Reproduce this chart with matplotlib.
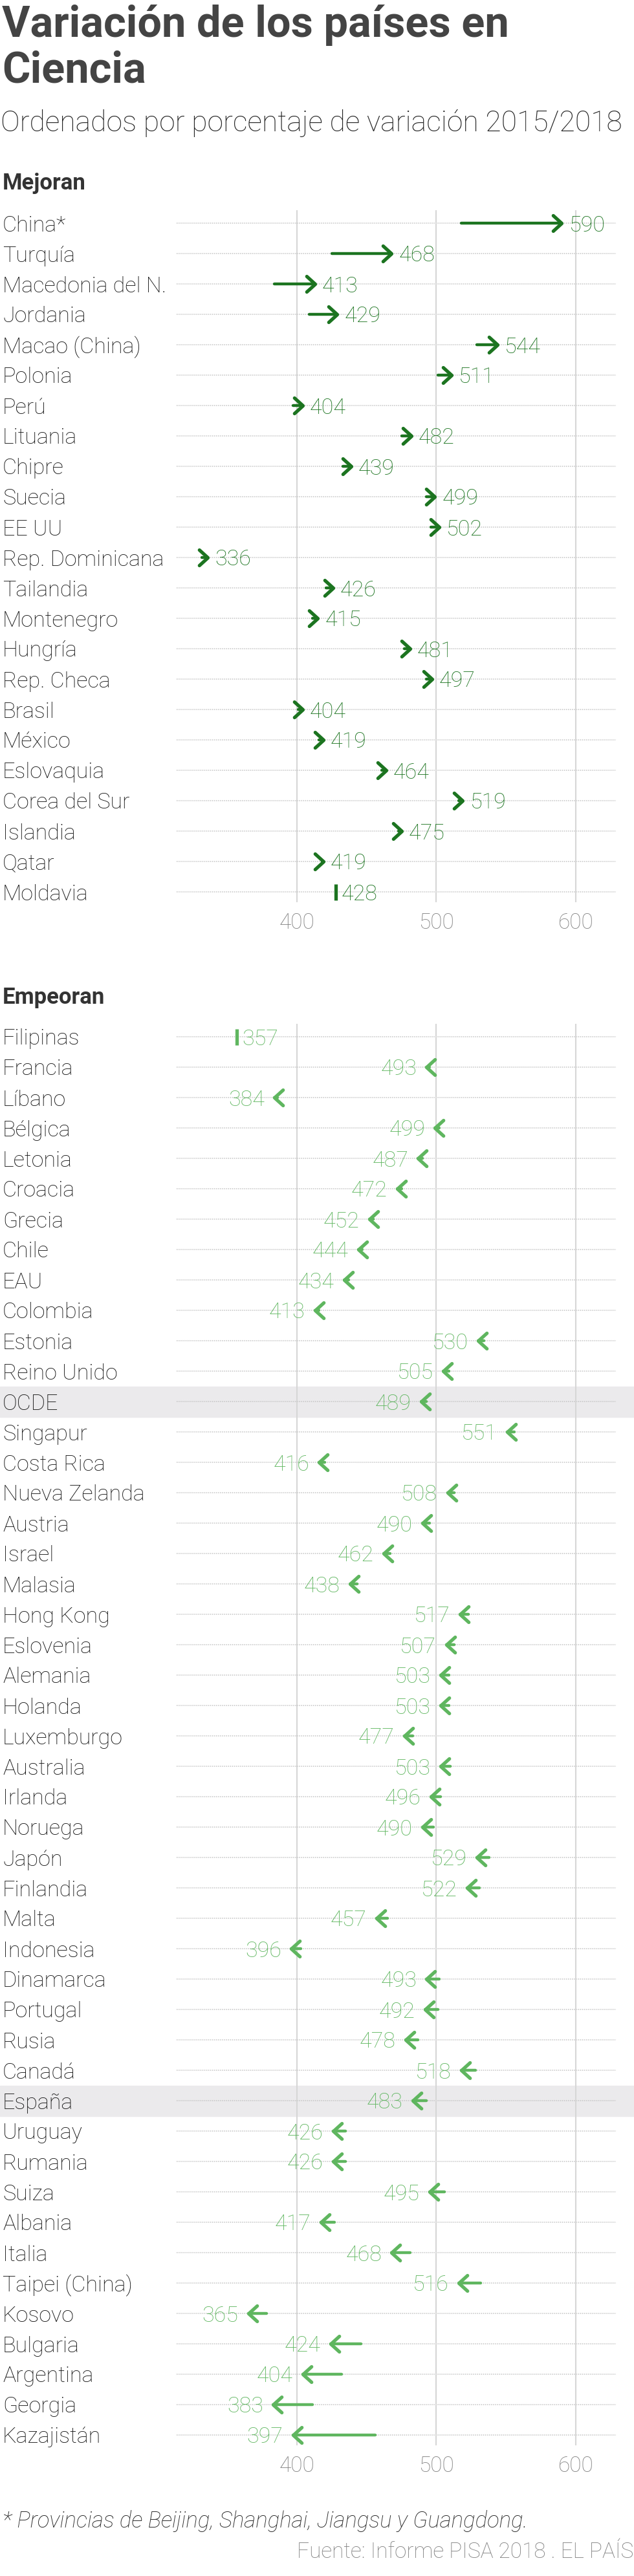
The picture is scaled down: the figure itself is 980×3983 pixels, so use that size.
import numpy as np
import matplotlib
matplotlib.use("Agg")
import matplotlib.pyplot as plt
from matplotlib.path import Path
from matplotlib.markers import MarkerStyle
from matplotlib.patches import Rectangle
from matplotlib.transforms import blended_transform_factory as blend

# --- datos (puntuación PISA en Ciencia) ---
mejoran_paises = ['China*', 'Turquía', 'Macedonia del N.', 'Jordania', 'Macao (China)',
                  'Polonia', 'Perú', 'Lituania', 'Chipre', 'Suecia', 'EE UU',
                  'Rep. Dominicana', 'Tailandia', 'Montenegro', 'Hungría', 'Rep. Checa',
                  'Brasil', 'México', 'Eslovaquia', 'Corea del Sur', 'Islandia', 'Qatar',
                  'Moldavia']
mejoran_2015 = [518, 425, 384, 409, 529, 501, 397, 475, 433, 493, 496, 332, 421, 411,
                477, 493, 401, 416, 461, 516, 473, 418, 428]
mejoran_2018 = [590, 468, 413, 429, 544, 511, 404, 482, 439, 499, 502, 336, 426, 415,
                481, 497, 404, 419, 464, 519, 475, 419, 428]

empeoran_paises = ['Filipinas', 'Francia', 'Líbano', 'Bélgica', 'Letonia', 'Croacia',
                   'Grecia', 'Chile', 'EAU', 'Colombia', 'Estonia', 'Reino Unido', 'OCDE',
                   'Singapur', 'Costa Rica', 'Nueva Zelanda', 'Austria', 'Israel', 'Malasia',
                   'Hong Kong', 'Eslovenia', 'Alemania', 'Holanda', 'Luxemburgo', 'Australia',
                   'Irlanda', 'Noruega', 'Japón', 'Finlandia', 'Malta', 'Indonesia',
                   'Dinamarca', 'Portugal', 'Rusia', 'Canadá', 'España', 'Uruguay', 'Rumania',
                   'Suiza', 'Albania', 'Italia', 'Taipei (China)', 'Kosovo', 'Bulgaria',
                   'Argentina', 'Georgia', 'Kazajistán']
empeoran_2015 = [np.nan, 495, 386, 502, 490, 475, 455, 447, 437, 416, 534, 509, 493,
                 556, 420, 513, 495, 467, 443, 523, 513, 509, 509, 483, 510, 503, 498,
                 538, 531, 465, 403, 502, 501, 487, 528, 493, 435, 435, 506, 427, 481,
                 532, 378, 446, 432, 411, 456]
empeoran_2018 = [357, 493, 384, 499, 487, 472, 452, 444, 434, 413, 530, 505, 489,
                 551, 416, 508, 490, 462, 438, 517, 507, 503, 503, 477, 503, 496, 490,
                 529, 522, 457, 396, 493, 492, 478, 518, 483, 426, 426, 495, 417, 468,
                 516, 365, 424, 404, 383, 397]

destacados = ['OCDE', 'España']
ticks = [400, 500, 600]

VERDE_OSC = '#1c7420'
VERDE_CLA = '#5fb65f'

W, H, DPI = 980, 3983, 100
FILA = 47

plt.rcParams['font.family'] = ['Roboto', 'DejaVu Sans']

fig = plt.figure(figsize=(W / DPI, H / DPI), dpi=DPI)


def ftxt(x, y, s, **kw):
    # texto en píxeles desde arriba a la izquierda
    return fig.text(x / W, 1 - y / H, s, **kw)


def chevron(derecha=True):
    d = -1.1 if derecha else 1.1
    p = Path([(d, 1), (0, 0), (d, -1)], [Path.MOVETO, Path.LINETO, Path.LINETO])
    return MarkerStyle(p, fillstyle='none', joinstyle='round', capstyle='round')


def seccion(top, paises, v15, v18, color):
    n = len(paises)
    y0 = top + 20
    bottom = y0 + (n - 1) * FILA + 16
    ax = fig.add_axes([273 / W, 1 - bottom / H, (952 - 273) / W, (bottom - top) / H])
    ax.axis('off')
    lab_tr = blend(fig.transFigure, ax.transData)
    tick_tr = blend(ax.transData, fig.transFigure)

    for i, pais in enumerate(paises):
        if pais in destacados:
            ax.add_patch(Rectangle((0, i - 0.5), 1, 1, transform=lab_tr, color='#ebeaec',
                                   zorder=0, clip_on=False))
        ax.axhline(i, color='#c4c4c4', lw=1.1, ls=(0, (1, 1)), zorder=1)
        ax.text(4 / W, i, pais, transform=lab_tr, ha='left', va='center_baseline',
                fontsize=24.5, fontweight='light', color='#111111')

    for t in ticks:
        ax.axvline(t, color='#d6d6d6', lw=1.5, zorder=1.5)
        ax.text(t, 1 - (bottom + 29) / H, str(t), transform=tick_tr, ha='center',
                va='center_baseline', fontsize=24, fontweight='light', color='#808080')

    for i, (a, b) in enumerate(zip(v15, v18)):
        if np.isnan(a) or a == b:
            ax.plot(b, i, marker='|', ms=18, mew=3.8, color=color, zorder=3)
            ax.annotate(str(b), (b, i), xytext=(6, 0), textcoords='offset points',
                        ha='left', va='center_baseline', fontsize=24.5,
                        fontweight='light', color=color, zorder=4)
            continue
        sube = b > a
        ax.plot([a, b], [i, i], color=color, lw=3.2, solid_capstyle='round', zorder=3)
        ax.plot(b, i, marker=chevron(sube), ms=19, mew=3.8, color=color, zorder=3)
        if sube:
            ax.annotate(str(b), (b, i), xytext=(8, 0), textcoords='offset points',
                        ha='left', va='center_baseline', fontsize=24.5,
                        fontweight='light', color=color, zorder=4)
        else:
            ax.annotate(str(b), (b, i), xytext=(-11, 0), textcoords='offset points',
                        ha='right', va='center_baseline', fontsize=24.5,
                        fontweight='light', color=color, zorder=4)

    ax.set_xlim(313.7, 628.8)
    ax.set_ylim((n - 1) + 16 / FILA, -20 / FILA)
    return ax


# cabecera
ftxt(3, 57, 'Variación de los países en', fontsize=48, fontweight='bold', color='#444444')
ftxt(3, 127, 'Ciencia', fontsize=48, fontweight='bold', color='#444444')
ftxt(1, 203, 'Ordenados por porcentaje de variación 2015/2018', fontsize=32,
     fontweight='light', color='#222222')

ftxt(4, 293, 'Mejoran', fontsize=25, fontweight='bold', color='#333333')
seccion(325, mejoran_paises, np.array(mejoran_2015, float), mejoran_2018, VERDE_OSC)

ftxt(4, 1552, 'Empeoran', fontsize=25, fontweight='bold', color='#333333')
seccion(1583, empeoran_paises, np.array(empeoran_2015, float), empeoran_2018, VERDE_CLA)

ftxt(4, 3908, '* Provincias de Beijing, Shanghai, Jiangsu y Guangdong.', fontsize=25,
     style='italic', fontweight='light', color='#222222')
ftxt(979, 3955, 'Fuente: Informe PISA 2018 . EL PAÍS', fontsize=24, fontweight='light',
     color='#808080', ha='right')

fig.savefig('out.png', dpi=DPI)
